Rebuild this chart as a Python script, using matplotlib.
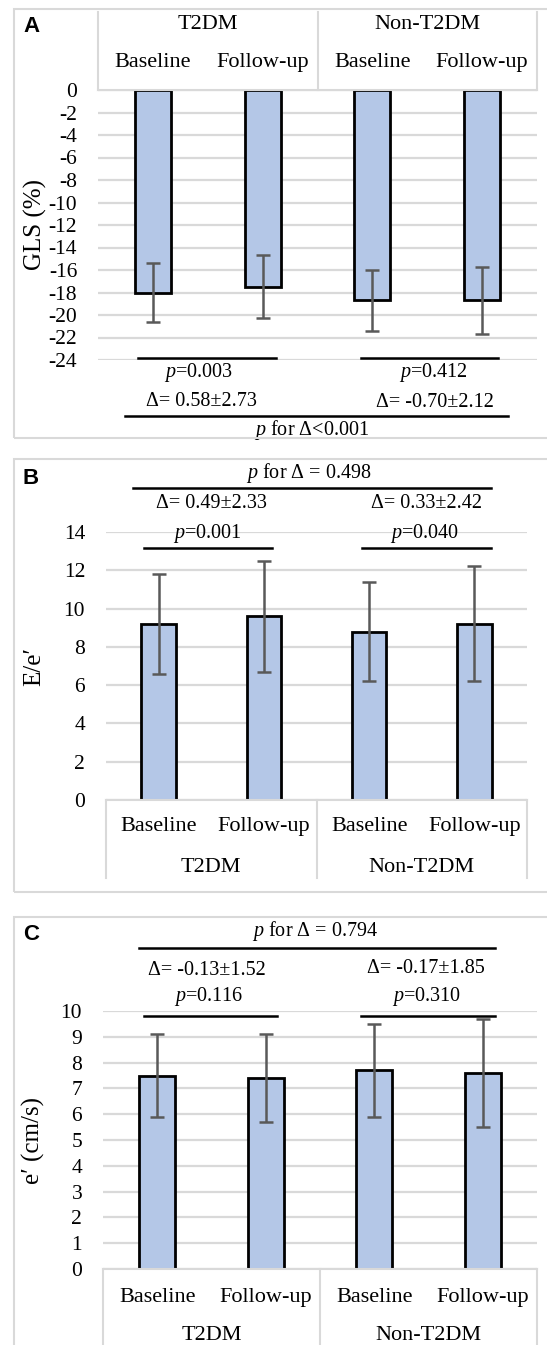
import matplotlib
matplotlib.use("Agg")
import matplotlib.pyplot as plt
from matplotlib.patches import Rectangle

plt.rcParams['font.family'] = ['Liberation Serif', 'DejaVu Serif']
plt.rcParams['mathtext.fontset'] = 'custom'
plt.rcParams['mathtext.rm'] = 'Liberation Serif'
plt.rcParams['mathtext.it'] = 'Liberation Serif:italic'

# --- data ---
categories = ['Baseline', 'Follow-up', 'Baseline', 'Follow-up']
groups = ['T2DM', 'Non-T2DM']

gls_mean = [-18.0, -17.5, -18.7, -18.7]
gls_sd = [2.6, 2.8, 2.7, 3.0]
gls_ticks = [0, -2, -4, -6, -8, -10, -12, -14, -16, -18, -20, -22, -24]

ee_mean = [9.2, 9.6, 8.8, 9.2]
ee_sd = [2.6, 2.9, 2.6, 3.0]
ee_ticks = [0, 2, 4, 6, 8, 10, 12, 14]

e_mean = [7.5, 7.4, 7.7, 7.6]
e_sd = [1.6, 1.7, 1.8, 2.1]
e_ticks = [0, 1, 2, 3, 4, 5, 6, 7, 8, 9, 10]

gls_p = ['$p$=0.003', '$p$=0.412']
gls_delta = ['Δ= 0.58±2.73', 'Δ= -0.70±2.12']
gls_pdelta = '$p$ for Δ<0.001'
ee_p = ['$p$=0.001', '$p$=0.040']
ee_delta = ['Δ= 0.49±2.33', 'Δ= 0.33±2.42']
ee_pdelta = '$p$ for Δ = 0.498'
e_p = ['$p$=0.116', '$p$=0.310']
e_delta = ['Δ= -0.13±1.52', 'Δ= -0.17±1.85']
e_pdelta = '$p$ for Δ = 0.794'

W, H = 547, 1345
BAR = '#B4C7E7'
GRID = '#D9D9D9'
ERR = '#595959'
FS = 14.5      # annotations
FS_TICK = 15.5
FS_CAT = 16
FS_LAB = 18

fig = plt.figure(figsize=(W / 100, H / 100), dpi=100)


def add_axes(l, r, t, b):
    return fig.add_axes([l / W, 1 - b / H, (r - l) / W, (b - t) / H])


def panel_box(top, bottom, letter, ly):
    fig.add_artist(Rectangle((14 / W, 1 - bottom / H), (560 - 14) / W, (bottom - top) / H,
                             transform=fig.transFigure, fill=False, ec=GRID, lw=1.5))
    fig.text(23 / W, 1 - ly / H, letter, fontsize=16, fontweight='bold',
             family='Liberation Sans', ha='left', va='center')


def draw_bars(ax, mean, sd, ticks, ylim, ylabel, lab_x):
    x = range(len(mean))
    ax.bar(x, mean, width=0.33, color=BAR, edgecolor='black', linewidth=2.0, zorder=2)
    ax.errorbar(x, mean, yerr=sd, fmt='none', ecolor=ERR, elinewidth=1.8,
                capsize=5, capthick=1.8, zorder=3)
    ax.set_xlim(-0.5, 3.5)
    ax.set_ylim(*ylim)
    ax.set_yticks(ticks)
    ax.set_yticklabels([str(t) for t in ticks], fontsize=FS_TICK)
    ax.set_xticks([])
    ax.tick_params(axis='y', length=0, pad=15)
    ax.yaxis.grid(True, color=GRID, lw=1.6)
    ax.set_axisbelow(True)
    for s in ax.spines.values():
        s.set_visible(False)
    ax.set_ylabel(ylabel, fontsize=FS_LAB)
    ax.yaxis.set_label_coords(lab_x, 0.5)


def bracket(ax, x0, x1, y):
    ax.plot([x0, x1], [y, y], color='black', lw=1.8, clip_on=False, zorder=4)


def header(ax, y0, y1, ycat, ygrp):
    for xv in [-0.5, 1.5, 3.5]:
        ax.plot([xv, xv], [y0, y1], color=GRID, lw=1.5, clip_on=False)
    ax.plot([-0.5, 3.5], [y0, y0], color=GRID, lw=1.5, clip_on=False)
    for i, c in enumerate(categories):
        ax.text(i, ycat, c, fontsize=FS_CAT, ha='center', va='center')
    for i, g in enumerate(groups):
        ax.text(0.5 + 2 * i, ygrp, g, fontsize=FS_CAT, ha='center', va='center')


# ---------------- Panel A ----------------
panel_box(9, 438, 'A', 27)
axA = add_axes(98, 537, 90, 360)
draw_bars(axA, gls_mean, gls_sd, gls_ticks, (-24, 0), 'GLS (%)', -0.116)
header(axA, 0, 6.96, 2.42, 5.8)
bracket(axA, -0.136, 1.122, -23.8)
bracket(axA, 1.896, 3.145, -23.8)
bracket(axA, -0.254, 3.236, -28.98)
axA.text(0.42, -25.1, gls_p[0], fontsize=FS, ha='center', va='center')
axA.text(0.44, -27.7, gls_delta[0], fontsize=FS, ha='center', va='center')
axA.text(2.56, -25.1, gls_p[1], fontsize=FS, ha='center', va='center')
axA.text(2.57, -27.8, gls_delta[1], fontsize=FS, ha='center', va='center')
axA.text(1.45, -30.2, gls_pdelta, fontsize=FS, ha='center', va='center')

# ---------------- Panel B ----------------
panel_box(459, 892, 'B', 478)
axB = add_axes(106, 527, 532, 800)
draw_bars(axB, ee_mean, ee_sd, ee_ticks, (0, 14), 'E/e′', -0.145)
header(axB, 0, -4.05, -1.39, -3.53)
bracket(axB, -0.138, 1.081, 13.16)
bracket(axB, 1.929, 3.157, 13.16)
bracket(axB, -0.243, 3.157, 16.29)
axB.text(0.462, 13.94, ee_p[0], fontsize=FS, ha='center', va='center')
axB.text(2.53, 13.94, ee_p[1], fontsize=FS, ha='center', va='center')
axB.text(0.5, 15.5, ee_delta[0], fontsize=FS, ha='center', va='center')
axB.text(2.548, 15.5, ee_delta[1], fontsize=FS, ha='center', va='center')
axB.text(1.424, 17.07, ee_pdelta, fontsize=FS, ha='center', va='center')

# ---------------- Panel C ----------------
panel_box(917, 1400, 'C', 934)
axC = add_axes(103, 537, 1011, 1269)
draw_bars(axC, e_mean, e_sd, e_ticks, (0, 10), 'e′ (cm/s)', -0.134)
header(axC, 0, -3.2, -1.09, -2.57)
bracket(axC, -0.122, 1.104, 9.79)
bracket(axC, 1.878, 3.113, 9.79)
bracket(axC, -0.168, 3.113, 12.44)
axC.text(0.477, 10.57, e_p[0], fontsize=FS, ha='center', va='center')
axC.text(2.486, 10.57, e_p[1], fontsize=FS, ha='center', va='center')
axC.text(0.459, 11.58, e_delta[0], fontsize=FS, ha='center', va='center')
axC.text(2.477, 11.65, e_delta[1], fontsize=FS, ha='center', va='center')
axC.text(1.454, 13.1, e_pdelta, fontsize=FS, ha='center', va='center')

fig.savefig('out.png', dpi=100)
